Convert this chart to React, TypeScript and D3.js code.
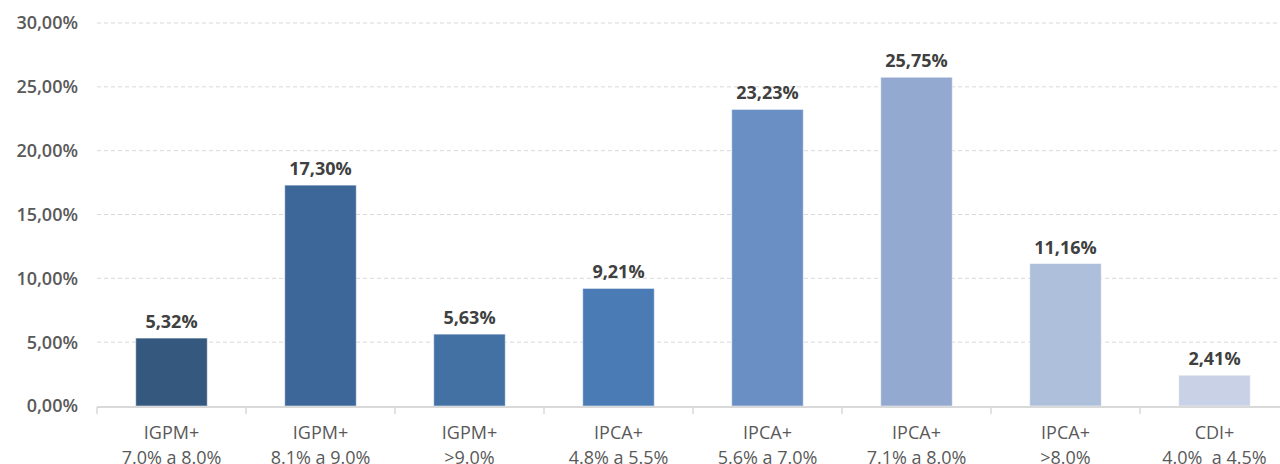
import React, { useEffect, useRef } from "react";
import * as d3 from "d3";

const categories = [
  ["IGPM+", "7.0% a 8.0%"],
  ["IGPM+", "8.1% a 9.0%"],
  ["IGPM+", ">9.0%"],
  ["IPCA+", "4.8% a 5.5%"],
  ["IPCA+", "5.6% a 7.0%"],
  ["IPCA+", "7.1% a 8.0%"],
  ["IPCA+", ">8.0%"],
  ["CDI+", "4.0%  a 4.5%"],
];
const values = [5.32, 17.3, 5.63, 9.21, 23.23, 25.75, 11.16, 2.41];
const colors = ["#35587f", "#3d6699", "#4371a3", "#4a7bb5", "#6a8fc4", "#94a9d0", "#aebfdb", "#c8d1e5"];
const yTicks = [0, 5, 10, 15, 20, 25, 30];

const fmt = (v: number) => v.toFixed(2).replace(".", ",") + "%";

export default function App() {
  const ref = useRef<SVGSVGElement>(null);
  const width = 1280;
  const height = 464;
  const marginLeft = 97;
  const marginTop = 23;
  const bottom = 406;
  const font = "'Open Sans', Lato, sans-serif";

  useEffect(() => {
    const svg = d3.select(ref.current);
    svg.selectAll("*").remove();

    const x = d3
      .scaleBand<number>()
      .domain(d3.range(categories.length))
      .range([marginLeft, marginLeft + 149 * categories.length])
      .paddingInner(0.52)
      .paddingOuter(0.26);
    const y = d3.scaleLinear([0, 30], [bottom, marginTop]);

    // grid
    svg
      .append("g")
      .selectAll("line")
      .data(yTicks.filter((t) => t > 0))
      .join("line")
      .attr("x1", marginLeft)
      .attr("x2", width)
      .attr("y1", (d) => y(d))
      .attr("y2", (d) => y(d))
      .attr("stroke", "#d9d9d9")
      .attr("stroke-dasharray", "4,3");

    // y labels
    svg
      .append("g")
      .selectAll("text")
      .data(yTicks)
      .join("text")
      .attr("x", 78)
      .attr("y", (d) => y(d))
      .attr("dy", "0.36em")
      .attr("text-anchor", "end")
      .attr("fill", "#595959")
      .attr("font-family", font)
      .attr("font-size", 18)
      .attr("font-weight", 600)
      .text((d) => fmt(d));

    // bars
    svg
      .append("g")
      .selectAll("rect")
      .data(values)
      .join("rect")
      .attr("x", (_, i) => x(i)!)
      .attr("width", x.bandwidth())
      .attr("y", (d) => y(d))
      .attr("height", (d) => bottom - y(d))
      .attr("fill", (_, i) => colors[i])
      .attr("stroke", "rgba(255,255,255,0.5)")
      .attr("stroke-width", 1);

    // data labels
    svg
      .append("g")
      .selectAll("text")
      .data(values)
      .join("text")
      .attr("x", (_, i) => x(i)! + x.bandwidth() / 2)
      .attr("y", (d) => y(d) - 10)
      .attr("text-anchor", "middle")
      .attr("fill", "#404040")
      .attr("font-family", font)
      .attr("font-size", 18)
      .attr("font-weight", 700)
      .text((d) => fmt(d));

    // x axis
    const axisY = bottom + 1;
    svg
      .append("line")
      .attr("x1", marginLeft)
      .attr("x2", width)
      .attr("y1", axisY)
      .attr("y2", axisY)
      .attr("stroke", "#d9d9d9")
      .attr("stroke-width", 2);
    const step = x.step();
    svg
      .append("g")
      .selectAll("line")
      .data(d3.range(categories.length + 1))
      .join("line")
      .attr("x1", (i) => marginLeft + i * step)
      .attr("x2", (i) => marginLeft + i * step)
      .attr("y1", axisY)
      .attr("y2", axisY + 7)
      .attr("stroke", "#d9d9d9")
      .attr("stroke-width", 1.5);

    const lbl = svg
      .append("g")
      .selectAll("text")
      .data(categories)
      .join("text")
      .attr("text-anchor", "middle")
      .attr("fill", "#595959")
      .attr("font-family", font)
      .attr("font-size", 18)
      .attr("font-weight", 500);
    lbl
      .append("tspan")
      .attr("x", (_, i) => x(i)! + x.bandwidth() / 2)
      .attr("y", 439)
      .text((d) => d[0]);
    lbl
      .append("tspan")
      .attr("x", (_, i) => x(i)! + x.bandwidth() / 2)
      .attr("y", 464)
      .style("white-space", "pre")
      .text((d) => d[1]);
  }, []);

  return (
    <svg
      ref={ref}
      width={width}
      height={height}
      style={{ position: "absolute", left: 0, top: 0, background: "#fff" }}
    />
  );
}
